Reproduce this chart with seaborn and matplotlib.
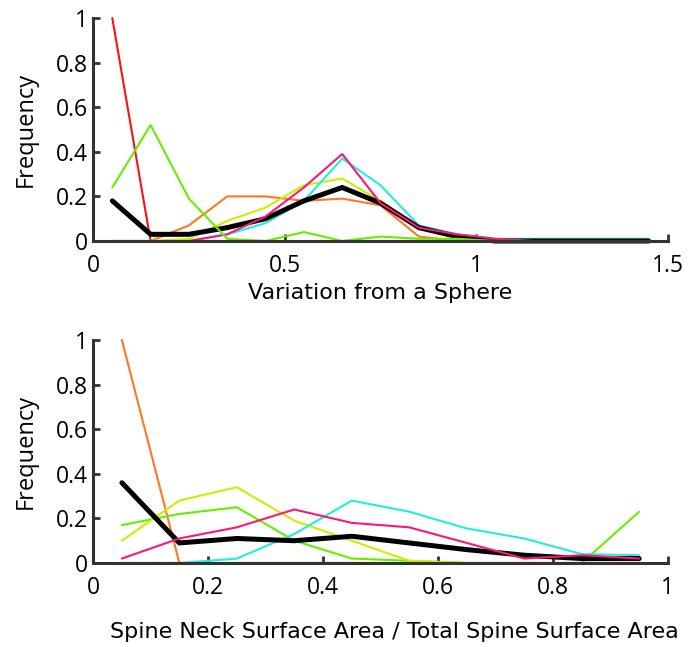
import numpy as np
import pandas as pd
import matplotlib.pyplot as plt
import seaborn as sns

sns.set_style("ticks")
plt.rcParams['font.family'] = ['Open Sans', 'DejaVu Sans']
plt.rcParams['text.color'] = 'black'
plt.rcParams['axes.labelcolor'] = 'black'
plt.rcParams['xtick.labelcolor'] = 'black'
plt.rcParams['ytick.labelcolor'] = 'black'

# --- data: histogram frequencies at bin centres ---
bins_top = [0.05, 0.15, 0.25, 0.35, 0.45, 0.55, 0.65, 0.75, 0.85, 0.95, 1.05, 1.15, 1.25, 1.35, 1.45]
top_red = [1.0, 0.0, 0.0, 0.0, 0.0, 0.0, 0.0, 0.0, 0.0, 0.0, 0.0, 0.0, 0.0, 0.0, 0.0]
top_green = [0.24, 0.52, 0.19, 0.01, 0.0, 0.04, 0.0, 0.02, 0.01, 0.01, 0.0, 0.0, 0.0, 0.0, 0.0]
top_orange = [0.0, 0.0, 0.07, 0.2, 0.2, 0.18, 0.19, 0.16, 0.02, 0.0, 0.0, 0.0, 0.0, 0.0, 0.0]
top_yellow = [0.0, 0.0, 0.01, 0.09, 0.15, 0.25, 0.28, 0.18, 0.06, 0.01, 0.0, 0.0, 0.0, 0.0, 0.0]
top_cyan = [0.0, 0.0, 0.0, 0.03, 0.08, 0.18, 0.37, 0.25, 0.07, 0.03, 0.01, 0.01, 0.01, 0.01, 0.01]
top_pink = [0.0, 0.0, 0.0, 0.03, 0.11, 0.24, 0.39, 0.17, 0.06, 0.03, 0.01, 0.0, 0.0, 0.0, 0.0]
top_mean = [0.18, 0.03, 0.03, 0.06, 0.10, 0.18, 0.24, 0.17, 0.06, 0.02, 0.0, 0.0, 0.0, 0.0, 0.0]

bins_bot = [0.05, 0.15, 0.25, 0.35, 0.45, 0.55, 0.65, 0.75, 0.85, 0.95]
bot_red = [0.0, 0.0, 0.0, 0.0, 0.0, 0.0, 0.0, 0.0, 0.0, 0.0]
bot_orange = [1.0, 0.0, 0.0, 0.0, 0.0, 0.0, 0.0, 0.0, 0.0, 0.0]
bot_green = [0.17, 0.22, 0.25, 0.10, 0.02, 0.01, 0.0, 0.0, 0.0, 0.23]
bot_yellow = [0.10, 0.28, 0.34, 0.19, 0.10, 0.01, 0.0, 0.0, 0.0, 0.0]
bot_cyan = [0.0, 0.0, 0.02, 0.13, 0.28, 0.23, 0.155, 0.11, 0.04, 0.035]
bot_pink = [0.02, 0.11, 0.16, 0.24, 0.18, 0.16, 0.09, 0.02, 0.035, 0.02]
bot_mean = [0.36, 0.09, 0.11, 0.10, 0.12, 0.09, 0.06, 0.035, 0.02, 0.02]

colors = {'red': '#ff1010', 'green': '#66ee00', 'orange': '#ff7722',
          'yellow': '#ccee00', 'cyan': '#22eedd', 'pink': '#ff1677', 'mean': 'black'}

top = {'red': top_red, 'orange': top_orange, 'yellow': top_yellow, 'cyan': top_cyan,
       'mean': top_mean, 'pink': top_pink, 'green': top_green}
bot = {'red': bot_red, 'orange': bot_orange, 'green': bot_green, 'yellow': bot_yellow,
       'cyan': bot_cyan, 'mean': bot_mean, 'pink': bot_pink}


def long_df(x, series):
    rows = []
    for name, vals in series.items():
        for xi, v in zip(x, vals):
            rows.append({'x': xi, 'freq': v, 'cell': name})
    return pd.DataFrame(rows)


fig = plt.figure(figsize=(6.95, 6.47), dpi=100)
ax1 = fig.add_axes([0.134, 0.6275, 0.827, 0.3447])
ax2 = fig.add_axes([0.134, 0.1298, 0.827, 0.3447])

for ax, x, series, xmax, xticks in [(ax1, bins_top, top, 1.5, [0, 0.5, 1, 1.5]),
                                    (ax2, bins_bot, bot, 1.0, [0, 0.2, 0.4, 0.6, 0.8, 1])]:
    df = long_df(x, series)
    for name in series:
        sub = df[df['cell'] == name]
        sns.lineplot(data=sub, x='x', y='freq', ax=ax, color=colors[name],
                     lw=3.6 if name == 'mean' else 1.5, clip_on=False)
    ax.set_xlim(0, xmax)
    ax.set_ylim(0, 1)
    ax.set_xticks(xticks)
    ax.set_xticklabels([f'{t:g}' for t in xticks])
    ax.set_yticks([0, 0.2, 0.4, 0.6, 0.8, 1])
    ax.set_yticklabels(['0', '0.2', '0.4', '0.6', '0.8', '1'])
    for s in ['top', 'right']:
        ax.spines[s].set_visible(False)
    for s in ['left', 'bottom']:
        ax.spines[s].set_color('#333333')
        ax.spines[s].set_linewidth(2.2)
    ax.tick_params(direction='in', length=5, width=2, color='#333333',
                   labelsize=16.5, pad=4, labelcolor='black')
    ax.tick_params(axis='x', pad=9)
    ax.set_ylabel('Frequency', fontsize=17)
    ax.yaxis.set_label_coords(-0.096, 0.5)
    ax.set_xlabel('')

ax1.set_xlabel('Variation from a Sphere', fontsize=16, family='DejaVu Sans', labelpad=4)
fig.text(0.568, 0.023, 'Spine Neck Surface Area / Total Spine Surface Area',
         fontsize=16, family='DejaVu Sans', ha='center', va='center')

fig.savefig('out.png', dpi=100)
